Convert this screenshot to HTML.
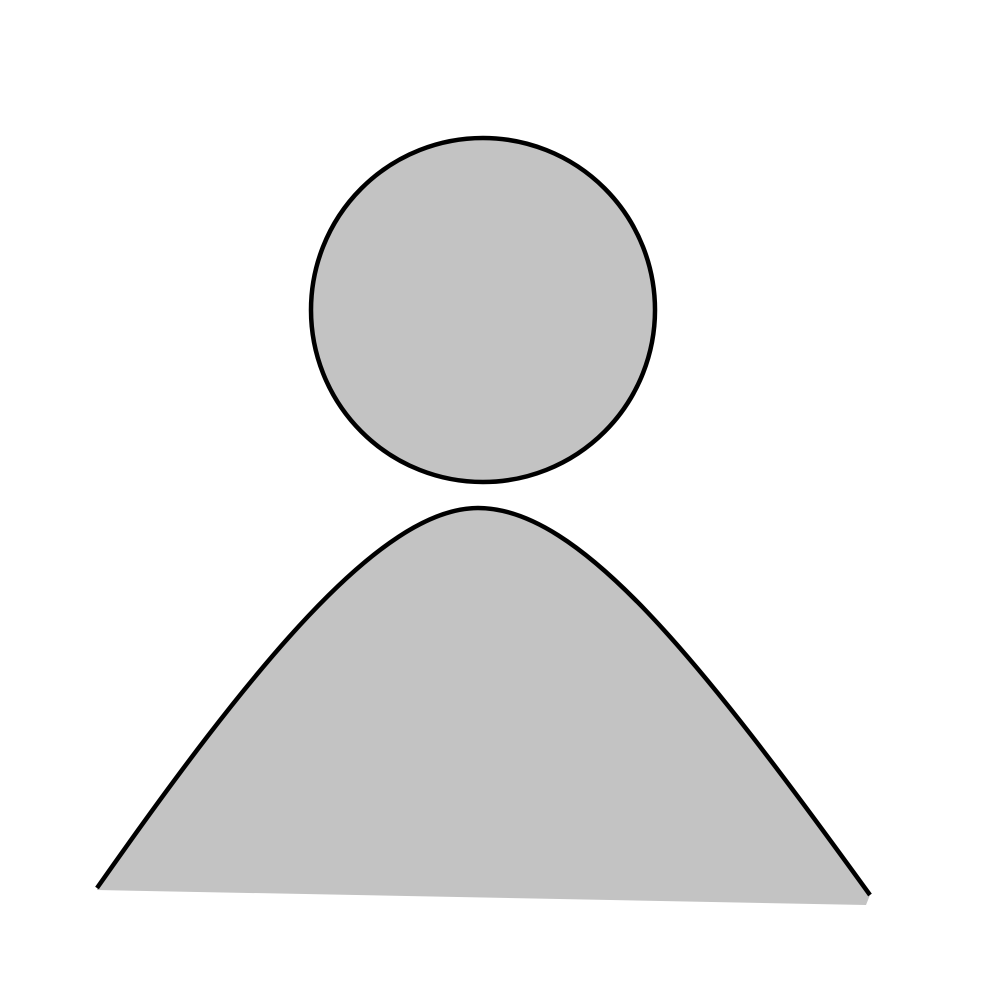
<!DOCTYPE html>
<html>
<head>
<meta charset="utf-8">
<style>
  html, body { margin: 0; padding: 0; background: #ffffff; }
  svg { display: block; }
</style>
</head>
<body>
<svg width="1000" height="1000" viewBox="0 0 1000 1000">
  <rect x="0" y="0" width="1000" height="1000" fill="#ffffff"/>
  <circle cx="483" cy="310" r="172" fill="#c3c3c3" stroke="#000000" stroke-width="4.5"/>
  <path d="M97,888 C250,670 380,508 478,508 C580,508 700,660 870,895 L866,905 L97,890 Z" fill="#c3c3c3" stroke="none"/>
  <path d="M97,888 C250,670 380,508 478,508 C580,508 700,660 870,895" fill="none" stroke="#000000" stroke-width="4.5"/>
</svg>
</body>
</html>
